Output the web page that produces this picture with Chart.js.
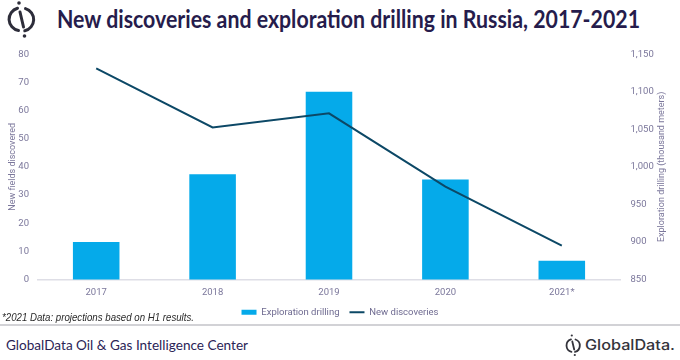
<!DOCTYPE html>
<html>
<head>
<meta charset="utf-8">
<script src="https://cdn.jsdelivr.net/npm/chart.js@4.4.0/dist/chart.umd.min.js"></script>
<style>
  html, body { margin: 0; padding: 0; background: #fff; }
  #wrap { position: relative; width: 680px; height: 360px; overflow: hidden; }
  #chart { position: absolute; left: 0; top: 38px; }
  .txt { position: absolute; white-space: nowrap; display: inline-block; transform-origin: left center; }
  #title { left: 57px; top: 5px; font: bold 24px Lato, sans-serif; line-height: 28px; color: #261c4c; }
  #note { left: 2px; top: 310px; font: italic 11px "Liberation Sans", Arial, sans-serif; line-height: 14px; color: #2a2a2a; }
  #footer { left: 6px; top: 336px; font: 14px Lato, sans-serif; line-height: 18px; color: #2b2456; }
  #brand { left: 585px; top: 336px; font: 500 14px Inter, sans-serif; line-height: 18px; color: #34343c; }
  #rule { position: absolute; left: 0; top: 324px; width: 680px; height: 2px; background: #d2d2d6; }
  svg { position: absolute; }
</style>
</head>
<body>
<div id="wrap">
  <svg style="left:0;top:0" width="44" height="40" viewBox="0 0 44 40">
    <path d="M 17.5 8.2 A 11.5 11.5 0 0 0 18.5 30.6" fill="none" stroke="#2d2d3a" stroke-width="3" stroke-linecap="round"/>
    <path d="M 25.5 8.6 A 11.5 11.5 0 0 1 24.8 30.8" fill="none" stroke="#2d2d3a" stroke-width="3" stroke-linecap="round"/>
    <path d="M 20 12 L 23.5 27" fill="none" stroke="#2d2d3a" stroke-width="3" stroke-linecap="round"/>
    <circle cx="19" cy="3" r="1.8" fill="#2d2d3a"/>
    <circle cx="24.5" cy="36" r="1.8" fill="#2d2d3a"/>
  </svg>
  <div id="title" class="txt">New discoveries and exploration drilling in Russia, 2017-2021</div>
  <canvas id="chart" width="680" height="289"></canvas>
  <div id="note" class="txt">*2021 Data: projections based on H1 results.</div>
  <div id="rule"></div>
  <div id="footer" class="txt">GlobalData Oil &amp; Gas Intelligence Center</div>
  <svg style="left:562px;top:333px" width="22" height="24" viewBox="0 0 22 24">
    <path d="M 9 6.3 A 6.5 6.5 0 0 0 9.5 18.8" fill="none" stroke="#34343c" stroke-width="1.8" stroke-linecap="round"/>
    <path d="M 13.5 6.5 A 6.5 6.5 0 0 1 13 18.9" fill="none" stroke="#34343c" stroke-width="1.8" stroke-linecap="round"/>
    <path d="M 10.3 8.5 L 12.2 16.5" fill="none" stroke="#34343c" stroke-width="1.8" stroke-linecap="round"/>
    <circle cx="9.8" cy="2.5" r="1.1" fill="#34343c"/>
    <circle cx="12.8" cy="22" r="1.1" fill="#34343c"/>
  </svg>
  <div id="brand" class="txt">GlobalData.</div>
</div>
<script>
const years = ['2017', '2018', '2019', '2020', '2021*'];
const drilling = [900, 990, 1100, 983, 875];
const discoveries = [75, 54, 59, 33, 12];

const barColor = '#05aaea';
const lineColor = '#0c4866';
const tickColor = '#7b779b';
const tickFont = { family: 'Roboto', size: 9.5 };
const rightTitle = 'Exploration drilling (thousand meters)';

function fitWidth(id, w) {
  const el = document.getElementById(id);
  const r = el.getBoundingClientRect().width;
  el.style.transform = `scaleX(${w / r})`;
}

fitWidth('title', 583);
fitWidth('note', 192);
fitWidth('footer', 242);
fitWidth('brand', 90);

// right axis title reads bottom-to-top like the left one
const rightTitlePlugin = {
  id: 'rightTitle',
  afterDraw(chart) {
    const s = chart.scales.y1;
    const c = chart.ctx;
    c.save();
    c.translate(s.right - 18.5, (s.top + s.bottom) / 2);
    c.rotate(-Math.PI / 2);
    c.font = '9px Roboto';
    c.fillStyle = tickColor;
    c.textAlign = 'center';
    c.textBaseline = 'middle';
    c.fillText(rightTitle, 0, 0);
    c.restore();
  },
};

const ctx = document.getElementById('chart');

new Chart(ctx, {
  type: 'bar',
  data: {
    labels: years,
    datasets: [
      {
        type: 'line',
        label: 'New discoveries',
        data: discoveries,
        yAxisID: 'y',
        borderColor: lineColor,
        backgroundColor: lineColor,
        borderWidth: 2,
        pointRadius: 0,
        tension: 0,
      },
      {
        type: 'bar',
        label: 'Exploration drilling',
        data: drilling,
        yAxisID: 'y1',
        backgroundColor: barColor,
        barPercentage: 0.4,
        categoryPercentage: 1,
      },
    ],
  },
  plugins: [rightTitlePlugin],
  options: {
    responsive: false,
    animation: false,
    layout: { padding: { top: 10, bottom: 0, left: 0, right: 0 } },
    plugins: {
      tooltip: { enabled: false },
      legend: {
        position: 'bottom',
        labels: {
          color: '#6f6b91',
          font: tickFont,
          usePointStyle: true,
          pointStyleWidth: 15,
          boxHeight: 5,
          padding: 10,
          generateLabels: (chart) =>
            chart.data.datasets
              .map((ds, i) => ({
                text: ds.label,
                fillStyle: ds.backgroundColor,
                strokeStyle: ds.borderColor || ds.backgroundColor,
                lineWidth: ds.type === 'line' ? 2 : 0,
                pointStyle: ds.type === 'line' ? 'line' : 'rect',
                fontColor: '#6f6b91',
                datasetIndex: i,
                hidden: false,
              }))
              .reverse(),
        },
      },
    },
    scales: {
      x: {
        grid: { display: false, drawTicks: false },
        border: { display: true, color: '#dedee6', width: 1.5 },
        ticks: { color: tickColor, font: tickFont, padding: 7 },
        afterFit: (s) => { s.height = 18; },
      },
      y: {
        position: 'left',
        min: 0,
        max: 80,
        grid: { display: false, drawTicks: false },
        border: { display: false },
        ticks: { stepSize: 10, color: tickColor, font: tickFont, padding: 9 },
        title: {
          display: true,
          text: 'New fields discovered',
          color: tickColor,
          font: { family: 'Roboto', size: 9 },
          padding: { top: 7.5, bottom: 0 },
        },
        afterFit: (s) => { s.width = 38; },
      },
      y1: {
        position: 'right',
        min: 850,
        max: 1150,
        grid: { display: false, drawTicks: false },
        border: { display: false },
        ticks: { stepSize: 50, color: tickColor, font: tickFont, padding: 10.5 },
        afterFit: (s) => { s.width = 60; },
      },
    },
  },
});
</script>
</body>
</html>
